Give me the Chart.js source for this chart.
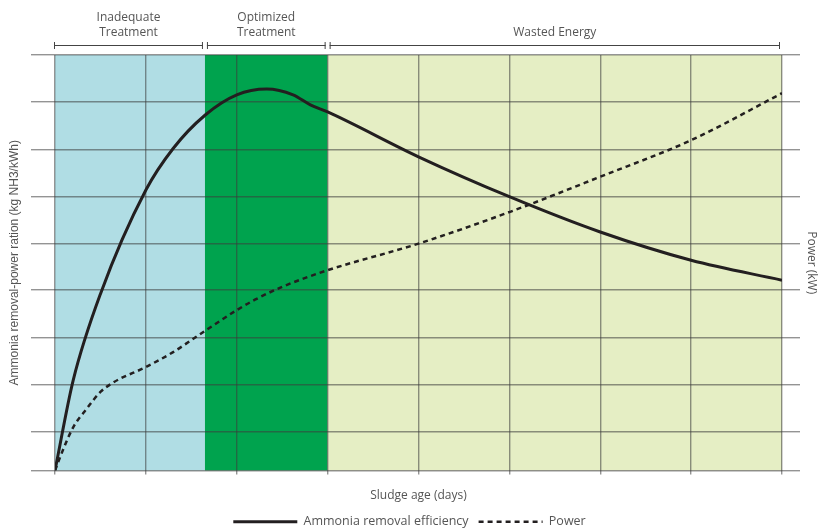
<!DOCTYPE html>
<html lang="en">
<head>
    <meta charset="UTF-8">
    <title>Sludge Age Chart</title>
    <script src="https://cdn.jsdelivr.net/npm/chart.js"></script>
    <style>
        html, body { margin: 0; padding: 0; background: #fff; }
        #wrap { position: relative; width: 819px; height: 530px; }
    </style>
</head>
<body>
    <div id="wrap"><canvas id="sludgeChart"></canvas></div>

    <script>
        // Regions along the sludge age axis (days, arbitrary units)
        const regionBounds = [0, 1.65, 3, 8];
        const regionLabels = [['Inadequate', 'Treatment'], ['Optimized', 'Treatment'], ['Wasted Energy']];

        // Grid line positions (no tick labels in the original)
        const xGrid = [0, 1, 2, 3, 4, 5, 6, 7, 8];
        const yGrid = [0, 9.4, 20.7, 32.0, 43.4, 54.7, 66.0, 77.3, 88.7, 100];

        // Ammonia removal efficiency
        const effDays = [0, 0.2, 0.5, 1, 1.3, 1.65, 2, 2.33, 2.62, 2.81, 3, 4, 5, 6, 7, 8];
        const effValues = [0, 21.7, 42.5, 67.5, 77.5, 85.5, 90.4, 91.8, 90.4, 88.0, 86.3, 75.5, 65.9, 57.4, 50.6, 45.8];

        // Power
        const powDays = [0, 0.1, 0.2, 0.35, 0.5, 0.65, 1, 1.3, 1.65, 2, 2.2, 2.5, 3, 4, 5, 6, 7, 8];
        const powValues = [0, 5.6, 10.4, 14.9, 18.9, 21.3, 24.9, 28.5, 33.6, 38.6, 41.1, 44.2, 48.2, 54.6, 62.2, 70.7, 79.5, 90.8];

        const gridColor = 'rgba(60, 60, 60, 0.55)';
        const textColor = '#555';

        const regionPlugin = {
            id: 'regions',
            beforeDraw(chart) {
                const {ctx, chartArea, scales} = chart;
                const fills = ['#b0dde4', '#00a34e', '#e5eec4'];
                ctx.save();
                for (let i = 0; i < regionBounds.length - 1; i++) {
                    const x1 = scales.x.getPixelForValue(regionBounds[i]);
                    const x2 = scales.x.getPixelForValue(regionBounds[i + 1]);
                    ctx.fillStyle = fills[i];
                    ctx.fillRect(x1, chartArea.top, x2 - x1, chartArea.bottom - chartArea.top);
                }
                ctx.restore();
            },
            afterDraw(chart) {
                const {ctx, chartArea, scales} = chart;
                const y = chartArea.top - 10;
                ctx.save();
                ctx.strokeStyle = '#444';
                ctx.lineWidth = 1;
                ctx.fillStyle = textColor;
                ctx.font = '12px "Open Sans"';
                ctx.textAlign = 'center';
                ctx.textBaseline = 'alphabetic';
                for (let i = 0; i < regionBounds.length - 1; i++) {
                    const x1 = scales.x.getPixelForValue(regionBounds[i]) + (i === 0 ? -1 : 2);
                    const x2 = scales.x.getPixelForValue(regionBounds[i + 1]) - 2;
                    ctx.beginPath();
                    ctx.moveTo(x1, y + 0.5); ctx.lineTo(x2, y + 0.5);
                    ctx.moveTo(x1 + 0.5, y - 3); ctx.lineTo(x1 + 0.5, y + 4);
                    ctx.moveTo(x2 - 0.5, y - 3); ctx.lineTo(x2 - 0.5, y + 4);
                    ctx.stroke();
                    const lines = regionLabels[i];
                    const cx = (x1 + x2) / 2;
                    lines.forEach((t, k) => {
                        ctx.fillText(t, cx, chartArea.top - 19 - (lines.length - 1 - k) * 15);
                    });
                }
                ctx.restore();
            }
        };

        const ctx = document.getElementById('sludgeChart').getContext('2d');
        new Chart(ctx, {
            type: 'line',
            data: {
                datasets: [
                    {
                        label: 'Ammonia removal efficiency',
                        data: effDays.map((d, i) => ({x: d, y: effValues[i]})),
                        borderColor: '#231f20',
                        backgroundColor: '#231f20',
                        borderWidth: 3,
                        pointRadius: 0,
                        cubicInterpolationMode: 'monotone',
                        yAxisID: 'y'
                    },
                    {
                        label: 'Power',
                        data: powDays.map((d, i) => ({x: d, y: powValues[i]})),
                        borderColor: '#231f20',
                        backgroundColor: '#231f20',
                        borderWidth: 2.5,
                        borderDash: [5, 4],
                        pointRadius: 0,
                        cubicInterpolationMode: 'monotone',
                        yAxisID: 'y'
                    }
                ]
            },
            options: {
                responsive: true,
                maintainAspectRatio: false,
                animation: false,
                layout: { padding: { top: 55, bottom: -8, left: 0, right: 0 } },
                plugins: {
                    legend: {
                        position: 'bottom',
                        labels: {
                            usePointStyle: true,
                            pointStyle: 'line',
                            pointStyleWidth: 64,
                            padding: 10,
                            color: textColor,
                            font: { family: 'Open Sans', size: 12.5 },
                            // point style labels lose the dataset dash, put it back
                            generateLabels: (chart) => {
                                const items = Chart.defaults.plugins.legend.labels.generateLabels(chart);
                                items.forEach(item => {
                                    const ds = chart.data.datasets[item.datasetIndex];
                                    item.lineDash = ds.borderDash || [];
                                    item.lineWidth = ds.borderWidth;
                                    item.strokeStyle = ds.borderColor;
                                });
                                return items;
                            }
                        }
                    },
                    tooltip: { enabled: false }
                },
                scales: {
                    x: {
                        type: 'linear',
                        min: regionBounds[0],
                        max: regionBounds[regionBounds.length - 1],
                        afterBuildTicks: (axis) => { axis.ticks = xGrid.map(v => ({value: v})); },
                        afterFit: (axis) => { axis.height = 35; },
                        ticks: { display: false },
                        grid: { color: gridColor, lineWidth: 1.4, tickLength: 4 },
                        border: { display: false },
                        title: {
                            display: true,
                            text: 'Sludge age (days)',
                            color: textColor,
                            font: { family: 'Open Sans', size: 12 },
                            padding: { top: 4, bottom: 3 }
                        }
                    },
                    y: {
                        min: 0,
                        max: 100,
                        afterBuildTicks: (axis) => { axis.ticks = yGrid.map(v => ({value: v})); },
                        afterFit: (axis) => { axis.width = 55; },
                        ticks: { display: false },
                        grid: { color: gridColor, lineWidth: 1.4, tickLength: 24 },
                        border: { display: false },
                        title: {
                            display: true,
                            text: 'Ammonia removal-power ration (kg NH3/kWh)',
                            color: textColor,
                            font: { family: 'Liberation Sans', size: 12 },
                            padding: { top: 7, bottom: 0 }
                        }
                    },
                    y1: {
                        position: 'right',
                        min: 0,
                        max: 100,
                        afterBuildTicks: (axis) => { axis.ticks = yGrid.map(v => ({value: v})); },
                        afterFit: (axis) => { axis.width = 37; },
                        ticks: { display: false },
                        grid: { color: gridColor, lineWidth: 1.4, tickLength: 18, drawOnChartArea: false },
                        border: { display: false },
                        title: {
                            display: true,
                            text: 'Power (kW)',
                            color: textColor,
                            font: { family: 'Open Sans', size: 12 },
                            padding: { top: 0, bottom: 0 }
                        }
                    }
                }
            },
            plugins: [regionPlugin]
        });
    </script>
</body>
</html>
